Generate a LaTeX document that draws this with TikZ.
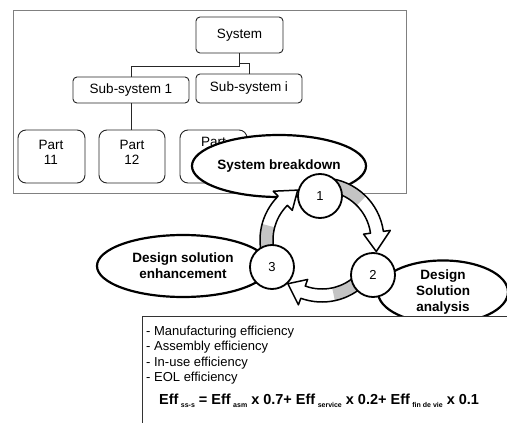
\documentclass[tikz,border=0pt]{standalone}
\usepackage{fontspec}
\setmainfont{Liberation Sans}
\usetikzlibrary{calc,shapes.geometric}
\definecolor{arrowgrey}{HTML}{C4C4C4}
\definecolor{framegrey}{HTML}{808080}
\newcommand\effsub[1]{\,\raisebox{-2.5pt}{\fontsize{7}{7}\selectfont #1}}
\newcommand\cycarrow[4]{%
  \fill[white] ($(C)+(#1:62pt)$) arc[start angle=#1,end angle=#3,radius=62pt]
    -- ($(C)+(#3:69pt)$) -- ($(C)+(#4:55.5pt)$) -- ($(C)+(#3:42pt)$)
    -- ($(C)+(#3:49pt)$) arc[start angle=#3,end angle=#1,radius=49pt] -- cycle;
  \fill[arrowgrey] ($(C)+(#1:62pt)$) arc[start angle=#1,end angle=#2,radius=62pt]
    -- ($(C)+(#2:49pt)$) arc[start angle=#2,end angle=#1,radius=49pt] -- cycle;
  \draw[cycline] ($(C)+(#1:62pt)$) arc[start angle=#1,end angle=#3,radius=62pt]
    -- ($(C)+(#3:69pt)$) -- ($(C)+(#4:55.5pt)$) -- ($(C)+(#3:42pt)$)
    -- ($(C)+(#3:49pt)$) arc[start angle=#3,end angle=#1,radius=49pt];
}
\begin{document}
\begin{tikzpicture}[x=1pt,y=-1pt,
  hbox/.style={draw=black!85, line width=0.9pt, rounded corners=4pt, fill=white,
    inner sep=0pt, font=\fontsize{13.5}{15}\selectfont},
  partbox/.style={draw=black!85, line width=0.9pt, rounded corners=8pt, fill=white,
    inner sep=0pt, minimum width=67pt, minimum height=53pt},
  parttext/.style={align=center, inner sep=0pt, font=\fontsize{13.5}{15}\selectfont},
  bigell/.style={ellipse, draw=black, line width=2.2pt, fill=white, inner sep=0pt,
    align=center, font=\fontsize{13.5}{16}\selectfont\bfseries},
  stepcirc/.style={circle, draw=black, line width=1.8pt, fill=white, inner sep=0pt,
    minimum size=44pt, font=\fontsize{13}{15}\selectfont},
  cycline/.style={draw=black, line width=1.5pt, line join=round},
  listtext/.style={anchor=west, inner sep=0pt, font=\fontsize{13}{15}\selectfont},
  conn/.style={draw=black!85, line width=0.9pt}
]
\useasboundingbox (0,0) rectangle (507,423);
\clip (0,0) rectangle (507,423);
\fill[white] (0,0) rectangle (507,423);

% top frame
\node[draw=framegrey, line width=0.8pt, inner sep=0pt, minimum width=393pt, minimum height=183pt] (frame) at (209.5,101.5) {};

% hierarchy
\node[hbox, minimum width=87pt, minimum height=36pt] (sys) at (239.5,35) {System};
\node[hbox, minimum width=116pt, minimum height=26pt] (sub1) at (131,90) {Sub-system 1};
\node[hbox, minimum width=106pt, minimum height=29pt] (subi) at (249,88.5) {Sub-system i};
\node[partbox] (p11) at (51.5,156.5) {};
\node[partbox, minimum width=66pt] (p12) at (132,156.5) {};
\node[partbox] (p13) at (213.5,156.5) {};
\node[parttext] (p11t) at (51,152.5) {Part\\11};
\node[parttext] (p12t) at (132,152.5) {Part\\12};
\node[parttext, anchor=north] (p13t) at (213.5,137) {Part};
\draw[conn] (sys.south) -- ++(0,13) -| (sub1.north);
\draw[conn] ($(sys.south)+(0,10)$) -| (subi.north);
\draw[conn] (sub1.south) -- (sub1.south |- p12.north);

% ellipses
\node[bigell, minimum width=152pt, minimum height=62pt] (sb) at (279,166) {System breakdown};
\node[bigell, minimum width=172pt, minimum height=62pt] (dse) at (183,266) {Design solution\\enhancement};
\node[bigell, minimum width=130pt, minimum height=60pt] (dsa) at (443,292) {Design\\Solution\\analysis};

% cycle arrows
\coordinate (C) at (322,240);
\cycarrow{85}{45}{8}{-12}
\cycarrow{-45}{-78}{-110}{-128}
\cycarrow{200}{165}{135}{116}

% step circles
\node[stepcirc] (s1) at (320,196) {1};
\node[stepcirc] (s2) at (373,275) {2};
\node[stepcirc] (s3) at (272,267) {3};

% bottom box
\node[draw=black!80, line width=0.8pt, fill=white, inner sep=0pt, anchor=north west,
  minimum width=400pt, minimum height=130pt] (eff) at (142,316) {};
\node[listtext] (l1) at (146,332) {- Manufacturing efficiency};
\node[listtext] (l2) at (146,347.5) {- Assembly efficiency};
\node[listtext] (l3) at (146,363) {- In-use efficiency};
\node[listtext] (l4) at (146,378.5) {- EOL efficiency};
\node[listtext, font=\fontsize{14.5}{16}\selectfont\bfseries] (form) at (159,401)
  {Eff\effsub{ss-s} = Eff\effsub{asm} x 0.7+ Eff\effsub{service} x 0.2+ Eff\effsub{fin de vie} x 0.1};
\end{tikzpicture}
\end{document}
